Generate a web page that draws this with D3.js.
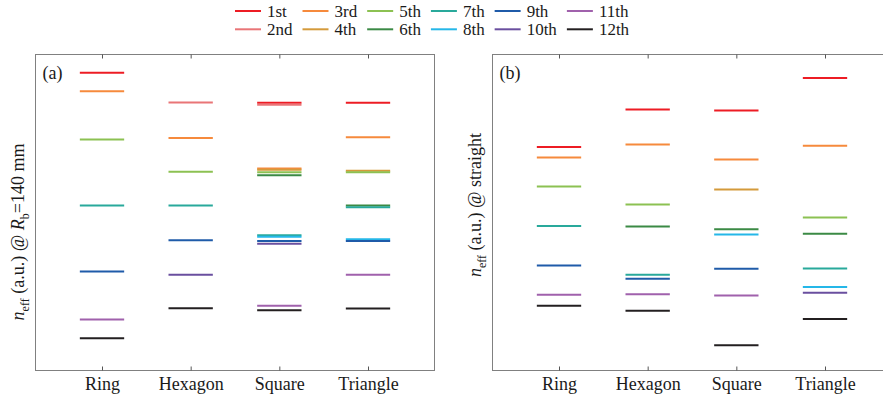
<!DOCTYPE html>
<html lang="en">
<head>
<meta charset="UTF-8">
<title>Effective index of modes</title>
<script src="https://d3js.org/d3.v7.min.js"></script>
<style>
    body { margin: 0; background: #fff; }
    svg { display: block; }
    text { font-family: "Liberation Serif", "Times New Roman", serif; fill: #1a1a1a; }
    .tick text { font-size: 18px; }
</style>
</head>
<body>
<svg id="chart" width="883" height="401"></svg>
<script>
// shapes along x
const shapes = ["Ring", "Hexagon", "Square", "Triangle"];
const modeNames = ["1st", "2nd", "3rd", "4th", "5th", "6th", "7th", "8th", "9th", "10th", "11th", "12th"];
const modeColors = ["#ed1c24", "#e97577", "#f68a3c", "#d49a3b", "#8cc152", "#3b8a45",
                    "#29a99b", "#25b7e8", "#1f5ba9", "#6a4f9f", "#a061ac", "#231f20"];

// n_eff (a.u.) per mode, one value per shape; null = hidden under a degenerate mode
// panel (a): bent, R_b = 140 mm
const bent1  = [94.2, null, 84.7, 84.7];
const bent2  = [null, 84.8, 84.1, null];
const bent3  = [88.4, 73.6, 63.9, 73.8];
const bent4  = [null, null, 63.5, 63.2];
const bent5  = [73.1, 62.9, 62.7, 62.7];
const bent6  = [null, null, 61.8, 52.2];
const bent7  = [52.2, 52.2, 42.8, 51.7];
const bent8  = [null, null, 42.3, 41.5];
const bent9  = [31.3, 41.2, 41.0, 41.0];
const bent10 = [null, 30.3, 40.1, null];
const bent11 = [16.1, null, 20.5, 30.3];
const bent12 = [10.2, 19.7, 19.1, 19.6];
// panel (b): straight
const str1  = [70.7, 82.6, 82.3, 92.6];
const str2  = [null, null, null, null];
const str3  = [67.4, 71.5, 66.8, 71.1];
const str4  = [null, null, 57.3, null];
const str5  = [58.2, 52.5, null, 48.4];
const str6  = [null, 45.6, 44.7, 43.3];
const str7  = [45.7, 30.3, null, 32.3];
const str8  = [null, null, 43.0, 26.4];
const str9  = [33.2, 29.0, 32.2, null];
const str10 = [null, null, null, 24.6];
const str11 = [24.0, 24.1, 23.7, null];
const str12 = [20.5, 18.9, 8.0, 16.3];

const bentModes = [bent1, bent2, bent3, bent4, bent5, bent6, bent7, bent8, bent9, bent10, bent11, bent12];
const straightModes = [str1, str2, str3, str4, str5, str6, str7, str8, str9, str10, str11, str12];

const svg = d3.select("#chart");
const plotTop = 54.5, plotBottom = 370.5, panelW = 399;
const y = d3.scaleLinear().domain([0, 100]).range([plotBottom, plotTop]);

function drawPanel(left, modes, tag, labelParts, labelY) {
    const x = d3.scaleLinear().domain([0.25, 4.75]).range([left, left + panelW]);
    const g = svg.append("g");

    // segments
    modes.forEach((vals, m) => {
        g.selectAll(null)
            .data(vals.map((v, i) => ({ v, i })).filter(d => d.v !== null))
            .enter()
            .append("line")
            .attr("x1", d => x(d.i + 1 - 0.25))
            .attr("x2", d => x(d.i + 1 + 0.25))
            .attr("y1", d => y(d.v))
            .attr("y2", d => y(d.v))
            .attr("stroke", modeColors[m])
            .attr("stroke-width", 2);
    });

    // box
    g.append("rect")
        .attr("x", left).attr("y", plotTop)
        .attr("width", panelW).attr("height", plotBottom - plotTop)
        .attr("fill", "none").attr("stroke", "#808080").attr("stroke-width", 1);

    const bottomAxis = g.append("g")
        .attr("transform", `translate(0,${plotBottom})`)
        .call(d3.axisBottom(x).tickValues([1, 2, 3, 4])
            .tickFormat(i => shapes[i - 1])
            .tickSizeInner(-4).tickSizeOuter(0).tickPadding(7));
    bottomAxis.select(".domain").remove();
    bottomAxis.selectAll("line").attr("stroke", "#555");
    bottomAxis.selectAll("text").attr("fill", "#1a1a1a");

    const topAxis = g.append("g")
        .attr("transform", `translate(0,${plotTop})`)
        .call(d3.axisTop(x).tickValues([1, 2, 3, 4]).tickFormat("")
            .tickSizeInner(-4).tickSizeOuter(0));
    topAxis.select(".domain").remove();
    topAxis.selectAll("line").attr("stroke", "#555");

    g.append("text")
        .attr("x", left + 7).attr("y", 79)
        .style("font-size", "18px")
        .text(tag);

    // y label
    const lbl = g.append("text")
        .attr("transform", `translate(${left - 12},${labelY}) rotate(-90)`)
        .attr("text-anchor", "middle")
        .style("font-size", "18px");
    lbl.append("tspan").style("font-style", "italic").text("n");
    lbl.append("tspan").attr("dy", 5).style("font-size", "12px").text("eff");
    lbl.append("tspan").attr("dy", -5).text(" (a.u.) @ ");
    labelParts(lbl);
}

drawPanel(35.5, bentModes, "(a)", lbl => {
    lbl.append("tspan").style("font-style", "italic").text("R");
    lbl.append("tspan").attr("dy", 5).style("font-size", "12px").text("b");
    lbl.append("tspan").attr("dy", -5).text("=140 mm");
}, 232);

drawPanel(492.5, straightModes, "(b)", lbl => {
    lbl.append("tspan").text("straight");
}, 205);

// legend: two rows, odd modes on top
const legend = svg.append("g");
let lx = 235;
for (let c = 0; c < 6; c++) {
    let maxW = 0;
    [0, 1].forEach(r => {
        const m = c * 2 + r;
        const ly = 11 + r * 18.3;
        legend.append("line")
            .attr("x1", lx).attr("x2", lx + 26)
            .attr("y1", ly).attr("y2", ly)
            .attr("stroke", modeColors[m]).attr("stroke-width", 2);
        const t = legend.append("text")
            .attr("x", lx + 32).attr("y", ly + 5.5)
            .style("font-size", "17px")
            .text(modeNames[m]);
        maxW = Math.max(maxW, t.node().getComputedTextLength());
    });
    lx += 32 + maxW + 10;
}
</script>
</body>
</html>
